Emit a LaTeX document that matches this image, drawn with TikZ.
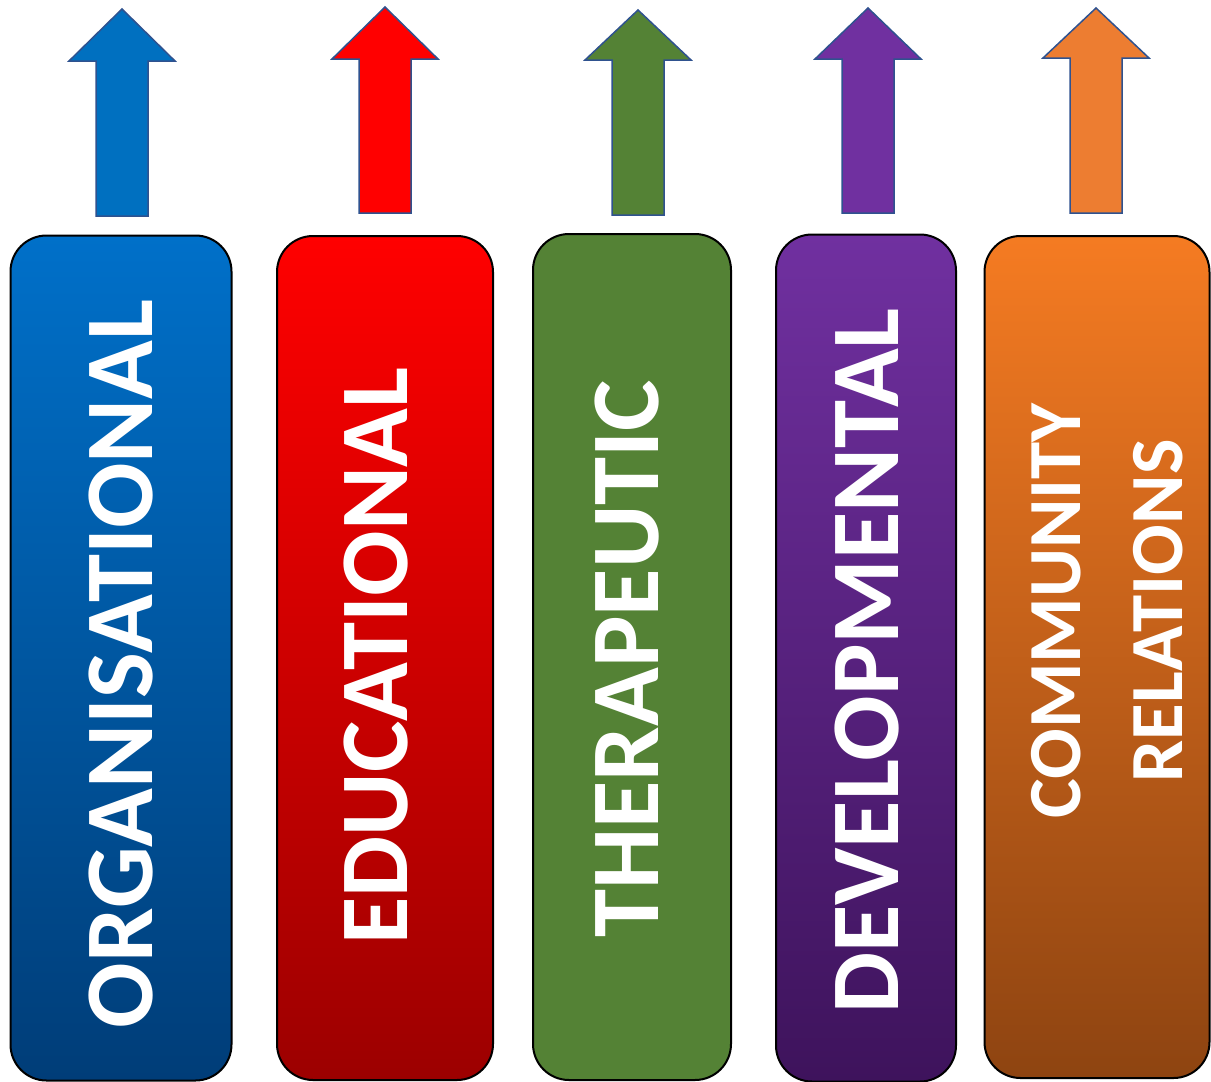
\documentclass[tikz,border=0pt]{standalone}
\usepackage{fontspec}
\setmainfont{Carlito}
\usepackage{tikz}

\definecolor{orgtop}{HTML}{0070C9}
\definecolor{orgbot}{HTML}{003D78}
\definecolor{edutop}{HTML}{FF0000}
\definecolor{edubot}{HTML}{9C0000}
\definecolor{thergreen}{HTML}{548235}
\definecolor{devtop}{HTML}{7030A0}
\definecolor{devbot}{HTML}{3E135C}
\definecolor{comtop}{HTML}{F57B22}
\definecolor{combot}{HTML}{8E4411}
\definecolor{arrowblue}{HTML}{0070C0}
\definecolor{arroworange}{HTML}{ED7D31}
\definecolor{arrowedge}{HTML}{2F528F}

% up arrow: centre x, tip y, head base y, bottom y, fill
\newcommand{\catarrow}[5]{%
\draw[arrowline, fill=#5] (#1,#2) -- (#1+53,#3) -- (#1+26,#3) -- (#1+26,#4)
 -- (#1-26,#4) -- (#1-26,#3) -- (#1-53,#3) -- cycle;}

\begin{document}
\begin{tikzpicture}[x=1pt, y=-1pt,
 catbox/.style={draw=black, line width=2pt, rounded corners=36pt, inner sep=0pt},
 arrowline/.style={draw=arrowedge, line width=1.5pt, line join=miter},
 catlabel/.style={rotate=90, text=white, inner sep=0pt, font=\fontsize{97}{97}\selectfont\bfseries}]
\useasboundingbox (0,0) rectangle (1211,1082);

% boxes
\node[catbox, top color=orgtop, bottom color=orgbot, minimum width=221pt, minimum height=845pt] (org) at (121,658) {};
\node[catbox, top color=edutop, bottom color=edubot, minimum width=216pt, minimum height=844pt] (edu) at (385,658) {};
\node[catbox, fill=thergreen, minimum width=198pt, minimum height=846pt] (ther) at (632,657) {};
\node[catbox, top color=devtop, bottom color=devbot, minimum width=180pt, minimum height=847pt] (dev) at (866,658) {};
\node[catbox, top color=comtop, bottom color=combot, minimum width=225pt, minimum height=842pt] (com) at (1097,657) {};

% labels
\node[catlabel] (orglbl) at (121,664) {ORGANISATIONAL};
\node[catlabel] (edulbl) at (376,656) {EDUCATIONAL};
\node[catlabel] (therlbl) at (627,659) {THERAPEUTIC};
\node[catlabel] (devlbl) at (867,661) {DEVELOPMENTAL};
\node[catlabel, align=center, font=\fontsize{75}{102}\selectfont\bfseries] (comlbl) at (1107,611) {COMMUNITY\\RELATIONS};

% arrows
\catarrow{122}{9}{61}{216}{arrowblue}
\catarrow{385}{7}{59}{213}{edutop}
\catarrow{638}{10}{60}{215}{thergreen}
\catarrow{868}{8}{59}{213}{devtop}
\catarrow{1096}{8}{58}{213}{arroworange}
\end{tikzpicture}
\end{document}
